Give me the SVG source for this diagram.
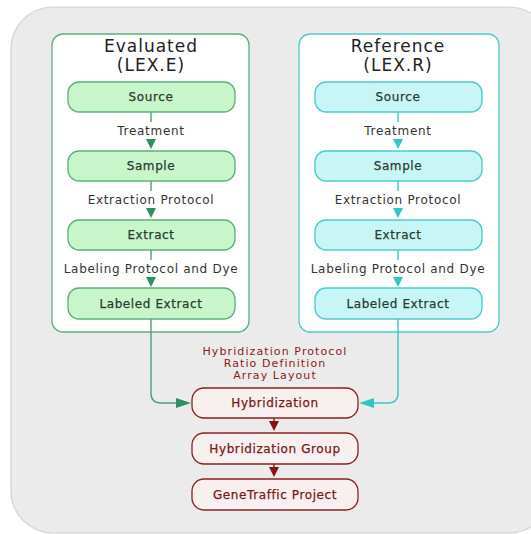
<svg xmlns="http://www.w3.org/2000/svg" width="531" height="534" viewBox="0 0 531 534">
<defs>
<style>
text{font-family:"DejaVu Sans","Verdana",sans-serif;text-anchor:middle;fill:#333}
.title{font-size:17px;letter-spacing:1px;fill:#222}
.nt{font-size:12px;letter-spacing:0.6px;fill:#2a3a30;stroke:#2a3a30;stroke-width:0.25}
.lb{font-size:12px;letter-spacing:0.7px;fill:#333}
.rl{font-size:11px;letter-spacing:1.1px;fill:#8b1a1a}
.rt{font-size:12px;letter-spacing:0.6px;fill:#7a1818;stroke:#7a1818;stroke-width:0.25}
.gbox{fill:#c9f5cb;stroke:#5fae80;stroke-width:1.3}
.cbox{fill:#c8f6f6;stroke:#4ccaca;stroke-width:1.3}
.rbox{fill:#f8f0ef;stroke:#8b2020;stroke-width:1.3}
.gl{stroke:#4f9e74;stroke-width:1.4;fill:none}
.cl{stroke:#3cc6c6;stroke-width:1.4;fill:none}
.gh{fill:#2f8f5f}
.ch{fill:#33c4c4}
.rh{fill:#8b1010}
.rline{stroke:#8b1a1a;stroke-width:1.4;fill:none}
</style>
</defs>
<rect x="11" y="7" width="540" height="526" rx="42" fill="#ebebeb" stroke="#d2d2d2" stroke-width="1.2"/>

<g id="panel-evaluated">
<rect x="52" y="34" width="197" height="298" rx="11" fill="#ffffff" stroke="#5fae80" stroke-width="1.3"/>
<text class="title" x="151" y="52">Evaluated</text>
<text class="title" x="151" y="71">(LEX.E)</text>
</g>
<g id="panel-reference">
<rect x="299" y="34" width="200" height="298" rx="11" fill="#ffffff" stroke="#4ccaca" stroke-width="1.3"/>
<text class="title" x="398" y="52">Reference</text>
<text class="title" x="398" y="71">(LEX.R)</text>
</g>

<g id="connectors">
<line class="gl" x1="151" y1="112" x2="151" y2="122"/>
<polygon class="gh" points="146,139 156,139 151,149"/>
<line class="gl" x1="151" y1="181" x2="151" y2="191"/>
<polygon class="gh" points="146,208 156,208 151,218"/>
<line class="gl" x1="151" y1="250" x2="151" y2="260"/>
<polygon class="gh" points="146,277 156,277 151,287"/>
<path class="gl" d="M151,319 V393 Q151,403 161,403 H178"/>
<polygon class="gh" points="176,398 176,408 191,403"/>
<line class="cl" x1="398" y1="112" x2="398" y2="122"/>
<polygon class="ch" points="393,139 403,139 398,149"/>
<line class="cl" x1="398" y1="181" x2="398" y2="191"/>
<polygon class="ch" points="393,208 403,208 398,218"/>
<line class="cl" x1="398" y1="250" x2="398" y2="260"/>
<polygon class="ch" points="393,277 403,277 398,287"/>
<path class="cl" d="M398,319 V393 Q398,403 388,403 H372"/>
<polygon class="ch" points="374,398 374,408 359,403"/>
<line class="rline" x1="274" y1="418" x2="274" y2="422"/>
<polygon class="rh" points="269,421 279,421 274,431"/>
<line class="rline" x1="274" y1="464" x2="274" y2="468"/>
<polygon class="rh" points="269,467 279,467 274,477"/>
</g>

<g id="labels">
<text class="lb" x="151" y="135">Treatment</text>
<text class="lb" x="151" y="204">Extraction Protocol</text>
<text class="lb" x="151" y="273">Labeling Protocol and Dye</text>
<text class="lb" x="398" y="135">Treatment</text>
<text class="lb" x="398" y="204">Extraction Protocol</text>
<text class="lb" x="398" y="273">Labeling Protocol and Dye</text>
<text class="rl" x="275" y="355">Hybridization Protocol</text>
<text class="rl" x="275" y="367">Ratio Definition</text>
<text class="rl" x="275" y="379">Array Layout</text>
</g>

<g id="e-source"><rect class="gbox" x="68" y="82" width="167" height="30" rx="11"/><text class="nt" x="151" y="101">Source</text></g>
<g id="e-sample"><rect class="gbox" x="68" y="151" width="167" height="30" rx="11"/><text class="nt" x="151" y="170">Sample</text></g>
<g id="e-extract"><rect class="gbox" x="68" y="220" width="167" height="30" rx="11"/><text class="nt" x="151" y="239">Extract</text></g>
<g id="e-labeled"><rect class="gbox" x="68" y="288" width="167" height="31" rx="11"/><text class="nt" x="151" y="308">Labeled Extract</text></g>

<g id="r-source"><rect class="cbox" x="315" y="82" width="167" height="30" rx="11"/><text class="nt" x="398" y="101">Source</text></g>
<g id="r-sample"><rect class="cbox" x="315" y="151" width="167" height="30" rx="11"/><text class="nt" x="398" y="170">Sample</text></g>
<g id="r-extract"><rect class="cbox" x="315" y="220" width="167" height="30" rx="11"/><text class="nt" x="398" y="239">Extract</text></g>
<g id="r-labeled"><rect class="cbox" x="315" y="288" width="167" height="31" rx="11"/><text class="nt" x="398" y="308">Labeled Extract</text></g>

<g id="hybridization"><rect class="rbox" x="192" y="388" width="166" height="30" rx="12"/><text class="rt" x="275" y="407">Hybridization</text></g>
<g id="hybridization-group"><rect class="rbox" x="192" y="433" width="166" height="31" rx="12"/><text class="rt" x="275" y="453">Hybridization Group</text></g>
<g id="genetraffic-project"><rect class="rbox" x="192" y="479" width="166" height="31" rx="12"/><text class="rt" x="275" y="499">GeneTraffic Project</text></g>
</svg>
